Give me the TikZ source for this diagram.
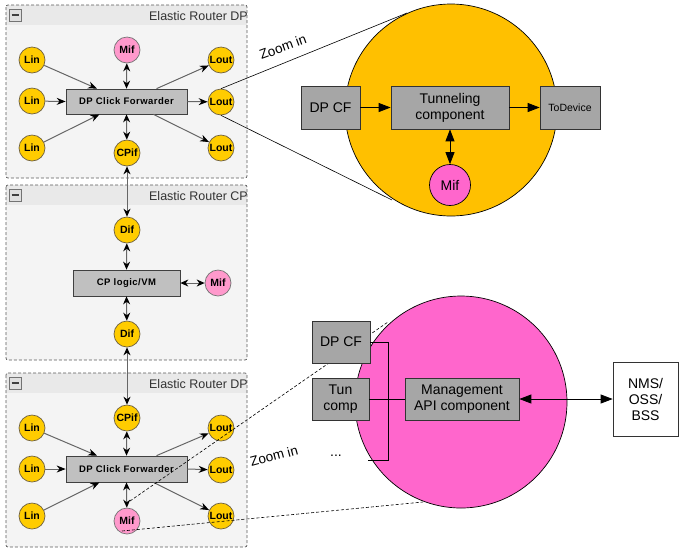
\documentclass[tikz,border=0pt]{standalone}
\usepackage{fontspec}
\setmainfont{Liberation Sans}
\usetikzlibrary{arrows.meta}

\definecolor{panelfill}{HTML}{F4F4F4}
\definecolor{panelhead}{HTML}{E9E9E9}
\definecolor{portyellow}{HTML}{FFCC00}
\definecolor{portpink}{HTML}{FF99CC}
\definecolor{portedge}{HTML}{6E6040}
\definecolor{corebox}{HTML}{C0C0C0}
\definecolor{bigyellow}{HTML}{FFC000}
\definecolor{bigpink}{HTML}{FF66CC}
\definecolor{compbox}{HTML}{A6A6A6}

\tikzset{
  panelframe/.style={draw=black!65, dash pattern=on 3pt off 2pt, line width=0.7pt},
  port/.style={circle, draw=portedge, line width=0.7pt, fill=portyellow,
    minimum size=26pt, inner sep=0pt,
    font=\fontsize{10.5}{10.5}\selectfont\bfseries},
  mport/.style={port, fill=portpink, draw=black!55},
  corerect/.style={rectangle, draw=black!75, line width=0.7pt, fill=corebox,
    inner sep=0pt, font=\fontsize{9.5}{10}\selectfont\bfseries\addfontfeature{LetterSpace=5}},
  link/.style={draw=black!60, line width=1pt,
    -{Stealth[length=9pt,width=7pt,black]}},
  bilink/.style={draw=black!60, line width=1pt,
    {Stealth[length=8pt,width=7pt,black]}-{Stealth[length=8pt,width=7pt,black]}},
  comp/.style={rectangle, draw=black!80, line width=0.7pt, fill=compbox,
    inner sep=0pt, align=center, font=\fontsize{14}{16}\selectfont},
  bigarrow/.style={draw=black, line width=0.8pt, -{Triangle[length=12pt,width=9pt]}},
  bigbiarrow/.style={draw=black, line width=0.8pt,
    {Triangle[length=12pt,width=9pt]}-{Triangle[length=12pt,width=9pt]}},
  zoomline/.style={draw=black, line width=0.6pt},
  zoomdash/.style={draw=black, line width=0.6pt, dash pattern=on 3pt off 2pt},
  ztext/.style={font=\fontsize{13.5}{14}\selectfont, inner sep=0pt},
  paneltitle/.style={anchor=east, inner sep=0pt, font=\fontsize{12.5}{13}\selectfont, text=black!80}
}

% one collapsible panel: #1 top, #2 bottom, #3 title
\newcommand{\routerpanel}[3]{%
  \fill[panelfill] (6,#1) rectangle (247,#2);
  \fill[panelhead] (6,#1) rectangle (247,#1+20);
  \draw[fill=black!12, draw=black!55, line width=0.6pt] (9,#1+4) rectangle (21,#1+16);
  \draw[black!75, line width=1.2pt] (11.5,#1+10) -- (18.5,#1+10);
  \node[paneltitle] at (248,#1+11) {#3};
  \draw[panelframe, rounded corners=2pt] (6,#1) rectangle (247,#2);
}

\begin{document}
\begin{tikzpicture}[x=1pt,y=-1pt]
\useasboundingbox (0,0) rectangle (679,550);

% ---------- panels ----------
\routerpanel{5}{178}{Elastic Router DP}
\routerpanel{185}{360}{Elastic Router CP}
\routerpanel{373}{547}{Elastic Router DP}

% ---------- upper data plane ----------
\node[corerect, minimum width=121pt, minimum height=25pt] (fwdA) at (126.5,101.5) {DP Click Forwarder};
\node[port] (linA1) at (32,60) {Lin};
\node[port] (linA2) at (32,101) {Lin};
\node[port] (linA3) at (32,148) {Lin};
\node[mport] (mifA) at (127,50) {Mif};
\node[port] (loutA1) at (221,60) {Lout};
\node[port] (loutA2) at (221,102) {Lout};
\node[port] (loutA3) at (221,148) {Lout};
\node[port] (cpifA) at (127,153) {CPif};

\draw[link] (linA1) -- ([xshift=-29.5pt]fwdA.north);
\draw[link] (linA2) -- (fwdA.west);
\draw[link] (linA3) -- ([xshift=-27pt]fwdA.south);
\draw[link] ([xshift=30pt]fwdA.north) -- (loutA1);
\draw[link] (fwdA.east) -- (loutA2);
\draw[link] ([xshift=27pt]fwdA.south) -- (loutA3);
\draw[bilink] (fwdA.north) -- (mifA);
\draw[bilink] (fwdA.south) -- (cpifA);

% ---------- control plane ----------
\node[corerect, minimum width=107pt, minimum height=26pt] (cpl) at (126.5,283) {CP logic/VM};
\node[port] (difA) at (127,230) {Dif};
\node[port] (difB) at (127,334) {Dif};
\node[mport] (mifB) at (218,283) {Mif};
\draw[bilink] (cpl.north) -- (difA);
\draw[bilink] (cpl.south) -- (difB);
\draw[bilink] (cpl.east) -- (mifB);

% ---------- lower data plane ----------
\node[corerect, minimum width=121pt, minimum height=26pt] (fwdB) at (126.5,469) {DP Click Forwarder};
\node[port] (cpifB) at (127,418) {CPif};
\node[port] (linB1) at (32,428) {Lin};
\node[port] (linB2) at (32,469) {Lin};
\node[port] (linB3) at (32,516) {Lin};
\node[mport] (mifC) at (127,521) {Mif};
\node[port] (loutB1) at (221,428) {Lout};
\node[port] (loutB2) at (221,470) {Lout};
\node[port] (loutB3) at (221,516) {Lout};

\draw[link] (linB1) -- ([xshift=-29.5pt]fwdB.north);
\draw[link] (linB2) -- (fwdB.west);
\draw[link] (linB3) -- ([xshift=-27pt]fwdB.south);
\draw[link] ([xshift=30pt]fwdB.north) -- (loutB1);
\draw[link] (fwdB.east) -- (loutB2);
\draw[link] ([xshift=27pt]fwdB.south) -- (loutB3);
\draw[bilink] (fwdB.north) -- (cpifB);
\draw[bilink] (fwdB.south) -- (mifC);

% ---------- links between panels ----------
\draw[bilink] (cpifA) -- (difA);
\draw[bilink] (difB) -- (cpifB);

% ---------- zoom of the tunneling path ----------
\node[circle, draw=black, line width=0.7pt, fill=bigyellow, minimum size=212pt, inner sep=0pt] (zoomY) at (451,110) {};
\coordinate (tY1) at (407,13);
\coordinate (tY2) at (392,200);
\draw[zoomline] (loutA2.north) -- (tY1);
\draw[zoomline] (loutA2.south) -- (tY2);
\node[ztext, rotate=20] (zinA) at (283,47) {Zoom in};

\node[comp, minimum width=59pt, minimum height=43pt] (dpcfA) at (330.5,107.5) {DP CF};
\node[comp, minimum width=118pt, minimum height=43pt] (tun) at (450,107.5) {Tunneling\\component};
\node[comp, minimum width=60pt, minimum height=43pt, font=\fontsize{10.5}{12}\selectfont] (todev) at (570,107.5) {ToDevice};
\node[circle, draw=black, line width=0.7pt, fill=bigpink, minimum size=41pt, inner sep=0pt,
  font=\fontsize{14}{16}\selectfont] (mifD) at (450,185) {Mif};
\draw[bigarrow] (dpcfA) -- (tun);
\draw[bigarrow] (tun) -- (todev);
\draw[bigbiarrow] (tun) -- (mifD);

% ---------- zoom of the management interface ----------
\node[circle, draw=black, line width=0.7pt, fill=bigpink, minimum size=212pt, inner sep=0pt] (zoomP) at (461,402) {};
\coordinate (mA) at (130,501);
\coordinate (mB) at (122,531);
\coordinate (tP1) at (388,322);
\coordinate (tP2) at (423,502);
\draw[zoomdash] (mA) -- (tP1);
\draw[zoomdash] (mB) -- (tP2);
\node[ztext, rotate=15] (zinB) at (274,456) {Zoom in};

\node[comp, minimum width=58pt, minimum height=42pt] (dpcfB) at (341,342) {DP CF};
\node[comp, minimum width=57pt, minimum height=42pt] (tunc) at (340.5,399) {Tun\\comp};
\node[font=\fontsize{14}{16}\selectfont, inner sep=0pt] (dots) at (336,456) {...};
\node[comp, minimum width=114pt, minimum height=42pt] (mgmt) at (462,399) {Management\\API component};
\node[rectangle, draw=black!80, line width=0.7pt, fill=white, minimum width=65pt, minimum height=74pt,
  inner sep=0pt, align=center, font=\fontsize{14}{16}\selectfont] (nms) at (645.5,399) {NMS/\\OSS/\\BSS};

\coordinate (brTop) at (388,342);
\coordinate (brBot) at (388,460);
\coordinate (brEnd) at (368,460);
\draw[zoomline, line width=0.8pt] (dpcfB.east) -- (brTop) -- (brBot) -- (brEnd);
\draw[zoomline, line width=0.8pt] (tunc.east) -- (mgmt.west);
\draw[bigbiarrow] (mgmt) -- (nms);
\end{tikzpicture}
\end{document}
